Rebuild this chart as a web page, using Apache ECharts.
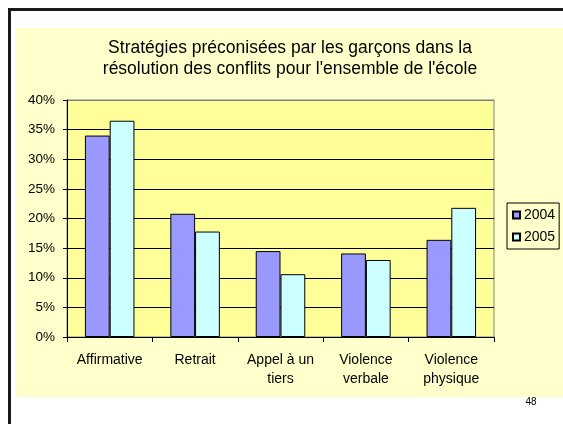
<!DOCTYPE html>
<html>
<head>
<meta charset="utf-8">
<script src="https://cdn.jsdelivr.net/npm/echarts@6/dist/echarts.min.js"></script>
<style>
  html, body { margin: 0; padding: 0; background: #fff; }
  #chart { width: 563px; height: 424px; }
</style>
</head>
<body>
<div id="chart"></div>
<script>
// categories and values (shares)
const categories = ['Affirmative', 'Retrait', 'Appel à un\ntiers', 'Violence\nverbale', 'Violence\nphysique']
const years = ['2004', '2005']
const values2004 = [0.340, 0.208, 0.145, 0.141, 0.164]
const values2005 = [0.365, 0.178, 0.106, 0.130, 0.218]
const yTicks = [0, 0.05, 0.10, 0.15, 0.20, 0.25, 0.30, 0.35, 0.40]

const font = '"Liberation Sans", Arial, sans-serif'
const chart = echarts.init(document.getElementById('chart'))

// split lines black, the top one grey like the plot frame
const splitColors = yTicks.map((t, i) => i === yTicks.length - 1 ? '#808080' : '#000')

const barStyle = color => ({ color: color, borderColor: '#000', borderWidth: 1 })

const option = {
  animation: false,
  textStyle: { fontFamily: font },
  graphic: [
    // slide frame
    { type: 'rect', z: -10, shape: { x: 16, y: 28, width: 547, height: 369 }, style: { fill: '#FFFFCC' } },
    { type: 'rect', z: -5, shape: { x: 8, y: 8, width: 3, height: 416 }, style: { fill: '#1a1a1a' } },
    { type: 'rect', z: -5, shape: { x: 8, y: 8, width: 555, height: 3 }, style: { fill: '#1a1a1a' } },
    { type: 'text', x: 531, y: 402, style: { text: '48', fontSize: 10, fontFamily: font, fill: '#000', align: 'center', verticalAlign: 'middle' } }
  ],
  title: {
    text: 'Stratégies préconisées par les garçons dans la\nrésolution des conflits pour l\'ensemble de l\'école',
    left: 285,
    textAlign: 'center',
    top: 33,
    padding: 5,
    textStyle: { fontSize: 17.5, fontWeight: 'normal', color: '#000', lineHeight: 21, fontFamily: font }
  },
  legend: {
    data: years,
    orient: 'vertical',
    left: 507,
    top: 203,
    padding: [5, 4, 5, 5],
    itemWidth: 7,
    itemHeight: 7,
    itemGap: 8,
    icon: 'rect',
    borderColor: '#000',
    borderWidth: 1,
    textStyle: { fontSize: 14, color: '#000', padding: [0, 0, 0, -1] }
  },
  grid: {
    left: 67,
    top: 100,
    width: 427,
    height: 237,
    show: true,
    backgroundColor: '#FFFF99',
    borderColor: '#808080',
    borderWidth: 1
  },
  xAxis: {
    type: 'category',
    data: categories,
    axisLine: { lineStyle: { color: '#000', width: 1 } },
    axisTick: { show: true, length: 5, lineStyle: { color: '#000' } },
    axisLabel: { fontSize: 14, color: '#000', lineHeight: 19.5, margin: 13, interval: 0 }
  },
  yAxis: {
    type: 'value',
    min: 0,
    max: 0.4,
    interval: 0.05,
    axisLine: { show: true, lineStyle: { color: '#000', width: 1 } },
    axisTick: { show: true, length: 4, lineStyle: { color: '#000' } },
    axisLabel: {
      fontSize: 13.5, color: '#000', margin: 12,
      formatter: v => Math.round(v * 100) + '%'
    },
    splitLine: { show: true, lineStyle: { color: splitColors, width: 1 } }
  },
  series: [
    {
      name: years[0],
      type: 'bar',
      data: values2004,
      barGap: '0%',
      barCategoryGap: '42%',
      itemStyle: barStyle('#9999FF')
    },
    {
      name: years[1],
      type: 'bar',
      data: values2005,
      itemStyle: barStyle('#CCFFFF')
    }
  ]
}

chart.setOption(option)
</script>
</body>
</html>
